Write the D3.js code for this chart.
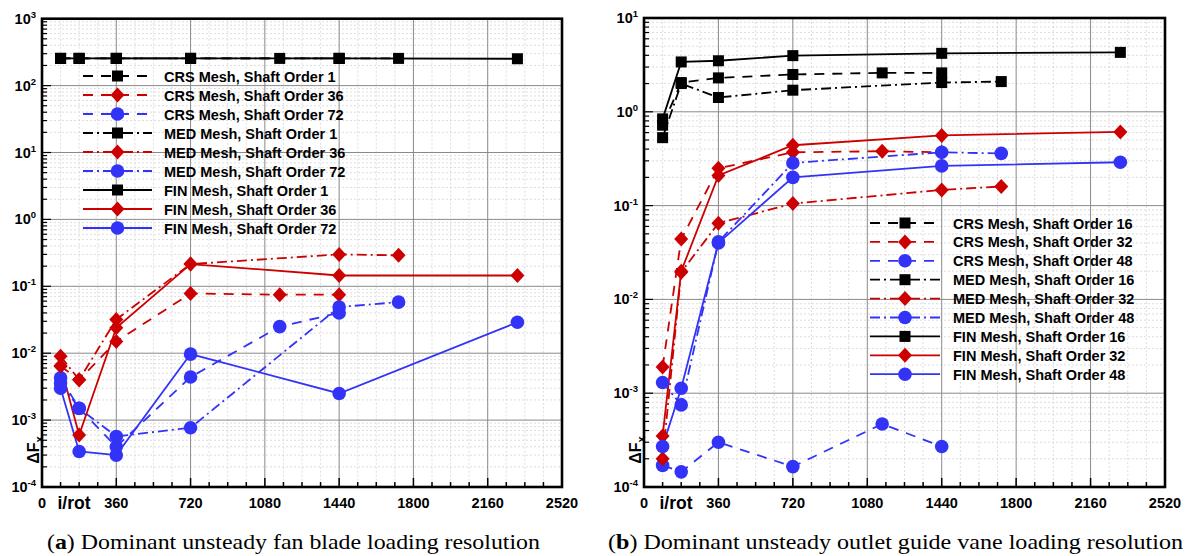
<!DOCTYPE html>
<html>
<head>
<meta charset="utf-8">
<script src="https://cdn.jsdelivr.net/npm/d3@7"></script>
<style>
  body { margin: 0; background: #fff; }
  svg { display: block; }
</style>
</head>
<body>
<svg width="1189" height="556"></svg>
<script>
// Resolution (iterations per rotation) for each mesh
const crsRes = [90, 180, 360, 720, 1152, 1440];
const medRes = [90, 180, 360, 720, 1440, 1728];
const finRes = [90, 180, 360, 720, 1440, 2304];

// (a) fan blade, shaft orders 1 / 36 / 72
const fanCrs1  = [255, 255, 255, 255, 255, 255];
const fanCrs36 = [0.0064, 0.004, 0.015, 0.078, 0.075, 0.075];
const fanCrs72 = [0.0043, 0.0015, 0.0004, 0.0044, 0.025, 0.04];
const fanMed1  = [255, 255, 255, 255, 255, 255];
const fanMed36 = [0.009, 0.004, 0.032, 0.215, 0.3, 0.29];
const fanMed72 = [0.0036, 0.0015, 0.00057, 0.00077, 0.049, 0.058];
const fanFin1  = [255, 255, 255, 255, 255, 252];
const fanFin36 = [0.0065, 0.0006, 0.024, 0.215, 0.145, 0.145];
const fanFin72 = [0.003, 0.00034, 0.0003, 0.0097, 0.0025, 0.029];

// (b) outlet guide vane, shaft orders 16 / 32 / 48
const ogvCrs16 = [0.72, 2.05, 2.3, 2.5, 2.6, 2.6];
const ogvCrs32 = [0.0019, 0.044, 0.25, 0.37, 0.38, 0.37];
const ogvCrs48 = [0.00017, 0.000145, 0.0003, 0.000165, 0.00047, 0.00027];
const ogvMed16 = [0.53, 2.0, 1.42, 1.7, 2.05, 2.1];
const ogvMed32 = [0.0002, 0.0195, 0.065, 0.105, 0.147, 0.16];
const ogvMed48 = [0.0013, 0.00075, 0.041, 0.285, 0.37, 0.36];
const ogvFin16 = [0.84, 3.4, 3.5, 3.97, 4.2, 4.3];
const ogvFin32 = [0.00035, 0.02, 0.21, 0.44, 0.56, 0.61];
const ogvFin48 = [0.00027, 0.00113, 0.04, 0.2, 0.265, 0.29];

const xTickLabels = [0, 360, 720, 1080, 1440, 1800, 2160, 2520];
const xTitleAt = 155;
const fanExponents = [3, 2, 1, 0, -1, -2, -3, -4];
const ogvExponents = [1, 0, -1, -2, -3, -4];
const fanOrders = [1, 36, 72];
const ogvOrders = [16, 32, 48];

// styling
const colors = ["#000000", "#cc0000", "#3333f8"];
const dashes = { CRS: "10,8", MED: "10,4,2,4", FIN: null };
const FONT = "'Liberation Sans', Arial, sans-serif";

const svg = d3.select("svg");

function marker(sel, kind, color) {
    if (kind === 0) {
        sel.append("rect").attr("x", -5.5).attr("y", -5.5).attr("width", 11).attr("height", 11).attr("fill", color);
    } else if (kind === 1) {
        sel.append("path").attr("d", "M0,-7.5L7,0L0,7.5L-7,0Z").attr("fill", color);
    } else {
        sel.append("circle").attr("r", 6.8).attr("fill", color);
    }
}

function drawPanel(p) {
    const g = svg.append("g");
    const x = d3.scaleLinear().domain([0, 2520]).range([p.left, p.right]);
    const y = d3.scaleLog().domain(p.yDomain).range([p.bottom, p.top]);

    const lo = Math.log10(p.yDomain[0]), hi = Math.log10(p.yDomain[1]);
    const minorY = [];
    for (let e = lo; e < hi; e++) for (let k = 2; k <= 9; k++) minorY.push(k * Math.pow(10, e));
    const minorX = d3.range(90, 2520, 90).filter(v => v % 360 !== 0);
    const majorX = d3.range(360, 2520, 360);
    const majorY = d3.range(lo + 1, hi).map(e => Math.pow(10, e));

    // minor grid
    g.selectAll(".mgx").data(minorX).enter().append("line")
        .attr("x1", d => x(d)).attr("x2", d => x(d)).attr("y1", p.top).attr("y2", p.bottom)
        .attr("stroke", "#d4d4d4").attr("stroke-width", 0.8).attr("stroke-dasharray", "2,2");
    g.selectAll(".mgy").data(minorY).enter().append("line")
        .attr("x1", p.left).attr("x2", p.right).attr("y1", d => y(d)).attr("y2", d => y(d))
        .attr("stroke", "#d4d4d4").attr("stroke-width", 0.8).attr("stroke-dasharray", "2,2");
    // major grid
    g.selectAll(".gx").data(majorX).enter().append("line")
        .attr("x1", d => x(d)).attr("x2", d => x(d)).attr("y1", p.top).attr("y2", p.bottom)
        .attr("stroke", "#8a8a8a").attr("stroke-width", 1);
    g.selectAll(".gy").data(majorY).enter().append("line")
        .attr("x1", p.left).attr("x2", p.right).attr("y1", d => y(d)).attr("y2", d => y(d))
        .attr("stroke", "#8a8a8a").attr("stroke-width", 1);

    // series
    const line = d3.line().x(d => x(d[0])).y(d => y(d[1]));
    p.series.forEach(s => {
        const pts = s.res.map((r, i) => [r, s.values[i]]);
        g.append("path").datum(pts).attr("d", line)
            .attr("fill", "none").attr("stroke", colors[s.kind]).attr("stroke-width", 1.8)
            .attr("stroke-dasharray", dashes[s.mesh]);
    });
    p.series.forEach(s => {
        s.res.forEach((r, i) => {
            const m = g.append("g").attr("transform", `translate(${x(r)},${y(s.values[i])})`);
            marker(m, s.kind, colors[s.kind]);
        });
    });

    // ticks (inward)
    g.selectAll(".tx").data(d3.range(0, 2521, 90)).enter().append("line")
        .attr("x1", d => x(d)).attr("x2", d => x(d))
        .attr("y1", p.bottom).attr("y2", d => p.bottom - (d % 360 === 0 ? 9 : 5))
        .attr("stroke", "#000").attr("stroke-width", 1.5);
    g.selectAll(".ty").data(minorY.concat(majorY)).enter().append("line")
        .attr("x1", p.left).attr("x2", d => p.left + (majorY.includes(d) ? 9 : 5))
        .attr("y1", d => y(d)).attr("y2", d => y(d))
        .attr("stroke", "#000").attr("stroke-width", 1.2);

    // frame
    g.append("rect").attr("x", p.left).attr("y", p.top)
        .attr("width", p.right - p.left).attr("height", p.bottom - p.top)
        .attr("fill", "none").attr("stroke", "#000").attr("stroke-width", 2.6);

    // x tick labels
    g.selectAll(".xl").data(xTickLabels).enter().append("text")
        .attr("x", d => x(d)).attr("y", p.bottom + 21)
        .attr("text-anchor", "middle").attr("font-family", FONT).attr("font-weight", "bold")
        .attr("font-size", 14.5).text(d => d);
    g.append("text").attr("x", x(xTitleAt)).attr("y", p.bottom + 22)
        .attr("text-anchor", "middle").attr("font-family", FONT).attr("font-weight", "bold")
        .attr("font-size", 17.5).text("i/rot");

    // y tick labels 10^n
    p.exponents.forEach(e => {
        const t = g.append("text").attr("x", p.left - 6).attr("y", y(Math.pow(10, e)) + 5)
            .attr("text-anchor", "end").attr("font-family", FONT).attr("font-weight", "bold")
            .attr("font-size", 14.5);
        t.append("tspan").text("10");
        t.append("tspan").attr("dy", -6).attr("font-size", 9.5).text(e);
    });

    // y title
    const yt = g.append("text")
        .attr("transform", `translate(${p.left - 3},${p.bottom - 37}) rotate(-90)`)
        .attr("text-anchor", "middle").attr("font-family", FONT).attr("font-weight", "bold")
        .attr("font-size", 16);
    yt.append("tspan").text("\u0394F");
    yt.append("tspan").attr("dy", 4).attr("font-size", 11).text("x");

    // legend
    const lg = g.append("g");
    p.series.forEach((s, i) => {
        const cy = p.legend.y + i * p.legend.dy;
        lg.append("line").attr("x1", p.legend.x0).attr("x2", p.legend.x1).attr("y1", cy).attr("y2", cy)
            .attr("stroke", colors[s.kind]).attr("stroke-width", 1.8)
            .attr("stroke-dasharray", dashes[s.mesh]);
        marker(lg.append("g").attr("transform", `translate(${(p.legend.x0 + p.legend.x1) / 2},${cy})`),
            s.kind, colors[s.kind]);
        lg.append("text").attr("x", p.legend.tx).attr("y", cy + 5.5)
            .attr("font-family", FONT).attr("font-weight", "bold").attr("font-size", 14.5)
            .text(`${s.mesh} Mesh, Shaft Order ${s.order}`);
    });

    // caption
    const cap = svg.append("text").attr("x", p.capX).attr("y", 549)
        .attr("font-family", "'Liberation Serif', 'Times New Roman', serif").attr("font-size", 21.5)
        .attr("textLength", p.capW).attr("lengthAdjust", "spacingAndGlyphs");
    cap.append("tspan").text("(");
    cap.append("tspan").attr("font-weight", "bold").text(p.capLetter);
    cap.append("tspan").text(") " + p.caption);
}

function buildSeries(orders, crs, med, fin) {
    const out = [];
    [["CRS", crsRes, crs], ["MED", medRes, med], ["FIN", finRes, fin]].forEach(([mesh, res, vals]) => {
        vals.forEach((v, k) => out.push({ mesh, res, values: v, kind: k, order: orders[k] }));
    });
    return out;
}

drawPanel({
    left: 42, right: 562, top: 18.7, bottom: 487,
    yDomain: [1e-4, 1e3], exponents: fanExponents,
    series: buildSeries(fanOrders, [fanCrs1, fanCrs36, fanCrs72], [fanMed1, fanMed36, fanMed72], [fanFin1, fanFin36, fanFin72]),
    legend: { x0: 83, x1: 152, tx: 164, y: 76, dy: 19 },
    capX: 47, capW: 493, capLetter: "a", caption: "Dominant unsteady fan blade loading resolution"
});

drawPanel({
    left: 644, right: 1165, top: 18, bottom: 487,
    yDomain: [1e-4, 10], exponents: ogvExponents,
    series: buildSeries(ogvOrders, [ogvCrs16, ogvCrs32, ogvCrs48], [ogvMed16, ogvMed32, ogvMed48], [ogvFin16, ogvFin32, ogvFin48]),
    legend: { x0: 870, x1: 940, tx: 953, y: 223, dy: 18.9 },
    capX: 608, capW: 575, capLetter: "b", caption: "Dominant unsteady outlet guide vane loading resolution"
});
</script>
</body>
</html>
